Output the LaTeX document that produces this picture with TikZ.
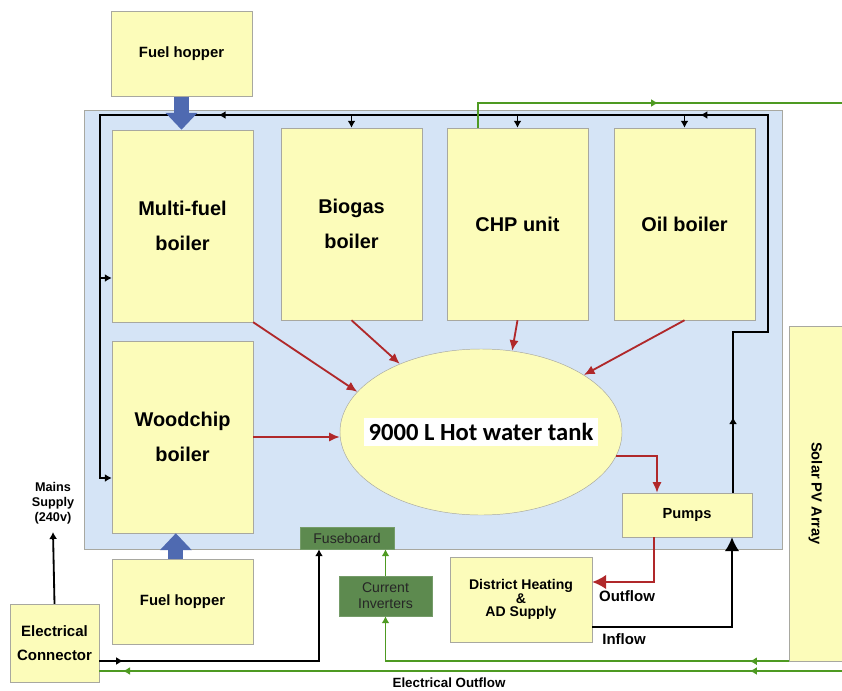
\documentclass[tikz,border=0pt]{standalone}
\usepackage{fontspec}
\setmainfont{Liberation Sans}
\newfontfamily\tankfont{Carlito}
\usetikzlibrary{arrows.meta,shapes.geometric,decorations.markings}
\definecolor{boxfill}{HTML}{FCFCBA}
\definecolor{boxline}{HTML}{A8A8A0}
\definecolor{plantbg}{HTML}{D5E4F6}
\definecolor{fusegreen}{HTML}{5D8A4F}
\definecolor{wire}{HTML}{4E9A22}
\definecolor{heat}{HTML}{B0282A}
\definecolor{hopperblue}{HTML}{4F6AB1}
\tikzset{/pgf/decoration/tipat/.style={mark=at position #1 with {\arrow{Latex[length=2.1mm,width=2.4mm]}}}}

\begin{document}
\begin{tikzpicture}[
    x=0.3mm,y=-0.3mm,
    plant/.style={draw=boxline,fill=plantbg,minimum width=209.4mm,minimum height=131.7mm,inner sep=0pt},
    boiler/.style={draw=boxline,fill=boxfill,minimum width=42.3mm,minimum height=57.6mm,inner sep=0pt,
      align=center,font=\fontsize{17}{30}\selectfont\bfseries},
    hopper/.style={draw=boxline,fill=boxfill,minimum width=42.3mm,minimum height=25.5mm,inner sep=0pt,
      font=\fontsize{12.7}{15}\selectfont\bfseries},
    unit/.style={draw=boxline,fill=boxfill,inner sep=0pt,align=center,font=\fontsize{12.5}{14}\selectfont\bfseries},
    elec/.style={draw=fusegreen!85!white,fill=fusegreen,text=black!85,inner sep=0pt,align=center,
      font=\fontsize{12}{13.7}\selectfont},
    tank/.style={ellipse,draw=boxline,fill=boxfill,minimum width=84.6mm,minimum height=49.8mm,inner sep=0pt},
    tanktext/.style={fill=white,inner sep=1.5mm,font=\tankfont\fontsize{21}{24}\selectfont\bfseries},
    lbl/.style={inner sep=0pt,align=center,font=\fontsize{12.8}{15}\selectfont\bfseries},
    water/.style={line width=0.55mm,draw=black},
    heatflow/.style={line width=0.55mm,draw=heat,-{Latex[length=3.2mm,width=2.8mm]}},
    wireflow/.style={line width=0.55mm,draw=wire},
    feed/.style={line width=4.5mm,draw=hopperblue,-{Triangle[length=5.1mm,width=9.3mm]}},
    tip/.style={-{Latex[length=2.1mm,width=2.4mm]}},
    bigtip/.style={-{Latex[length=4.2mm,width=4.4mm]}}
  ]
  \useasboundingbox (0,0) rectangle (842,691);

  % plant room and units
  \node[plant] (plant) at (433,329.5) {};
  \node[hopper] (hopTop) at (181.5,54) {Fuel hopper};
  \node[boiler] (multi) at (182.5,226) {Multi-fuel\\boiler};
  \node[boiler] (biogas) at (351.5,224) {Biogas\\boiler};
  \node[boiler] (chp) at (517.5,224) {CHP unit};
  \node[boiler] (oil) at (684.5,224) {Oil boiler};
  \node[boiler] (woodchip) at (182.5,437) {Woodchip\\boiler};
  \node[hopper] (hopBot) at (182.5,601.5) {Fuel hopper};
  \node[tank,label={[tanktext]center:9000 L Hot water tank}] (tank) at (481,432) {};
  \node[unit,minimum width=39mm,minimum height=13.2mm] (pumps) at (687,515) {Pumps};
  \node[unit,minimum width=42.6mm,minimum height=25.5mm,font=\fontsize{12}{11.5}\selectfont\bfseries]
    (district) at (521,599.5) {District Heating\\\&\\AD Supply};
  \node[elec,minimum width=28.2mm,minimum height=6.6mm] (fuse) at (347,538) {Fuseboard};
  \node[elec,minimum width=27.9mm,minimum height=12mm] (inverters) at (385.5,596) {Current\\Inverters};
  \node[unit,minimum width=26.7mm,minimum height=23.4mm,font=\fontsize{12.8}{20.5}\selectfont\bfseries]
    (connector) at (54.5,643) {Electrical\\Connector};
  \node[unit,rotate=-90,minimum width=100.5mm,minimum height=15.9mm] (solar) at (815.5,493.5) {Solar PV Array};

  % labels
  \node[lbl,font=\fontsize{10.8}{12.8}\selectfont\bfseries] (mains) at (53,503) {Mains\\Supply\\(240v)};
  \node[lbl] (outlbl) at (627,596) {Outflow};
  \node[lbl] (inlbl) at (624,639) {Inflow};
  \node[lbl,font=\fontsize{11.4}{13}\selectfont\bfseries] (elecout) at (449,683) {Electrical Outflow};

  \coordinate (gridout) at (842,103);
  \coordinate (gridin) at (842,671);
  \coordinate (mainsup) at (53,532);

  % return loop to the boilers
  \draw[water,tip,decoration={markings,tipat=0.052,tipat=0.33,tipat=0.661},postaction={decorate}]
    ([xshift=13.8mm]pumps.north) -- (733,332) -- (768,332) -- (768,115) -- (100,115) -- (100,478)
    -- ([yshift=-12.3mm]woodchip.west);
  \draw[water,tip] (100,278) -- (multi.west |- 0,278);
  \draw[water,tip] (biogas.north |- 0,115) -- (biogas.north);
  \draw[water,tip] (chp.north |- 0,115) -- (chp.north);
  \draw[water,tip] (oil.north |- 0,115) -- (oil.north);

  % fuel feed
  \draw[feed] (hopTop.south) -- (hopTop.south |- multi.north);
  \draw[feed] ([xshift=-2mm]hopBot.north) -- ([xshift=-2mm]woodchip.south);

  % heat into the tank
  \draw[heatflow] (multi.south east) -- (tank.162);
  \draw[heatflow] (biogas.south) -- (tank.140);
  \draw[heatflow] (chp.south) -- (tank.69);
  \draw[heatflow] (oil.south) -- (tank.29);
  \draw[heatflow] (woodchip.east) -- (woodchip.east -| tank.west);
  \draw[heatflow] (tank.350) -| ([xshift=-9mm]pumps.north);
  \draw[heatflow,bigtip] ([xshift=-9.9mm]pumps.south) |- ([yshift=5.25mm]district.east);
  \draw[water,bigtip] ([yshift=-8.25mm]district.east) -| ([xshift=13.5mm]pumps.south);

  % electrical
  \draw[wireflow,decoration={markings,tipat=0.527},postaction={decorate}]
    (chp.north -| 478,0) -- (478,103) -- (gridout);
  \draw[wireflow,tip,decoration={markings,tipat=0.087},postaction={decorate}]
    (solar.south east) -| (inverters.south);
  \draw[wireflow,tip] (inverters.north) -- (inverters.north |- fuse.south);
  \draw[wireflow,decoration={markings,tipat=0.124,tipat=0.968},postaction={decorate}]
    (gridin) -- (connector.east |- gridin);
  \draw[water,tip,decoration={markings,tipat=0.072},postaction={decorate}]
    (connector.east |- 0,661) -| (fuse.south -| 319,0);
  \draw[water,tip] (connector.north) -- (mainsup);
\end{tikzpicture}
\end{document}
